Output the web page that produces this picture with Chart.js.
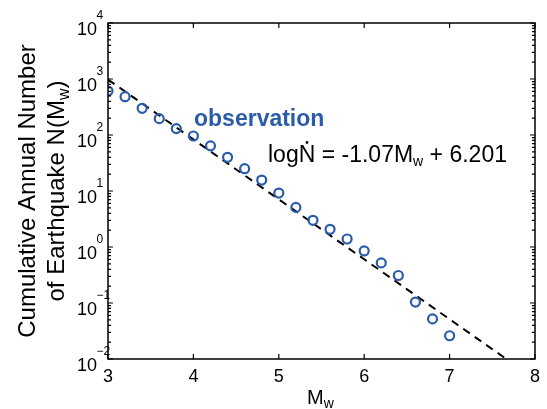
<!DOCTYPE html>
<html>
<head>
<meta charset="utf-8">
<script src="https://cdn.jsdelivr.net/npm/chart.js@4"></script>
<style>
    html, body { margin: 0; padding: 0; background: #fff; }
    #wrap { width: 547px; height: 409px; }
</style>
</head>
<body>
<div id="wrap"><canvas id="graficaGR" width="547" height="409"></canvas></div>
<script>
// magnitudes and cumulative annual number
const magnitudes = [3.0, 3.2, 3.4, 3.6, 3.8, 4.0, 4.2, 4.4, 4.6, 4.8, 5.0, 5.2, 5.4, 5.6, 5.8, 6.0, 6.2, 6.4, 6.6, 6.8, 7.0];
const observed = [610, 483, 300, 196, 130, 96, 64, 40, 25, 15.7, 9.2, 5.1, 3.0, 2.07, 1.39, 0.85, 0.52, 0.31, 0.104, 0.052, 0.026];

// dashed fit line end points
const fitX = [3.0, 7.664];
const fitY = [980, 0.01];

const xTicks = [3, 4, 5, 6, 7, 8];
const yExponents = [-2, -1, 0, 1, 2, 3, 4];

const FONT = '"Liberation Sans", Arial, sans-serif';
const BLUE = '#2a5caa';

function drawParts(ctx, parts, x, y) {
    // parts: [{t, size, dy, bold}] drawn left to right from x on baseline y
    let cx = x;
    parts.forEach((p) => {
        ctx.font = (p.bold ? 'bold ' : '') + p.size + 'px ' + FONT;
        ctx.fillText(p.t, cx, y + (p.dy || 0));
        cx += ctx.measureText(p.t).width;
    });
    return cx;
}

function partsWidth(ctx, parts) {
    let w = 0;
    parts.forEach((p) => {
        ctx.font = (p.bold ? 'bold ' : '') + p.size + 'px ' + FONT;
        w += ctx.measureText(p.t).width;
    });
    return w;
}

const axesPlugin = {
    id: 'axesPlugin',
    afterDraw(chart) {
        const ctx = chart.ctx;
        const a = chart.chartArea;
        const xs = chart.scales.x;
        const ys = chart.scales.y;
        ctx.save();
        ctx.strokeStyle = '#000';
        ctx.fillStyle = '#000';

        // box
        ctx.lineWidth = 1.5;
        ctx.strokeRect(a.left, a.top, a.right - a.left, a.bottom - a.top);

        // x ticks, inward on bottom and top
        ctx.lineWidth = 1.2;
        ctx.beginPath();
        xTicks.forEach((v) => {
            const px = xs.getPixelForValue(v);
            ctx.moveTo(px, a.bottom); ctx.lineTo(px, a.bottom - 5);
            ctx.moveTo(px, a.top); ctx.lineTo(px, a.top + 5);
        });
        // y ticks with minor ones
        yExponents.forEach((e) => {
            const py = ys.getPixelForValue(Math.pow(10, e));
            ctx.moveTo(a.left, py); ctx.lineTo(a.left + 5, py);
            ctx.moveTo(a.right, py); ctx.lineTo(a.right - 5, py);
            if (e < 4) {
                for (let m = 2; m <= 9; m++) {
                    const pm = ys.getPixelForValue(m * Math.pow(10, e));
                    ctx.moveTo(a.left, pm); ctx.lineTo(a.left + 3, pm);
                    ctx.moveTo(a.right, pm); ctx.lineTo(a.right - 3, pm);
                }
            }
        });
        ctx.stroke();

        // x tick labels
        ctx.textAlign = 'center';
        ctx.textBaseline = 'alphabetic';
        ctx.font = '18px ' + FONT;
        xTicks.forEach((v) => {
            ctx.fillText(String(v), xs.getPixelForValue(v), a.bottom + 23);
        });

        // y tick labels 10^e
        yExponents.forEach((e) => {
            const py = ys.getPixelForValue(Math.pow(10, e));
            ctx.textAlign = 'right';
            ctx.font = '18px ' + FONT;
            ctx.fillText('10', 97, py + 12);
            ctx.textAlign = 'left';
            ctx.font = '12px ' + FONT;
            ctx.fillText(e < 0 ? '\u2212' + (-e) : String(e), 96.5, py - 4);
        });

        // x axis title M_w
        ctx.textAlign = 'left';
        drawParts(ctx, [{t: 'M', size: 20}, {t: 'w', size: 14, dy: 4}], 307, a.bottom + 45);

        // y axis title, two rotated lines
        const cy = (a.top + a.bottom) / 2;
        const line1 = [{t: 'Cumulative Annual Number', size: 24}];
        const line2 = [{t: 'of Earthquake N(M', size: 24}, {t: 'w', size: 16, dy: 5}, {t: ')', size: 24}];
        ctx.save();
        ctx.translate(35, cy);
        ctx.rotate(-Math.PI / 2);
        drawParts(ctx, line1, -partsWidth(ctx, line1) / 2, 0);
        ctx.restore();
        ctx.save();
        ctx.translate(64, cy);
        ctx.rotate(-Math.PI / 2);
        drawParts(ctx, line2, -partsWidth(ctx, line2) / 2, 0);
        ctx.restore();

        // annotations
        ctx.fillStyle = BLUE;
        drawParts(ctx, [{t: 'observation', size: 23, bold: true}], 194, 126);

        ctx.fillStyle = '#000';
        const nStart = drawParts(ctx, [{t: 'log', size: 23}], 268, 162);
        const nEnd = drawParts(ctx, [{t: 'N', size: 23}], nStart, 162);
        ctx.beginPath();
        ctx.arc((nStart + nEnd) / 2, 142.5, 1.4, 0, Math.PI * 2);
        ctx.fill();
        drawParts(ctx, [
            {t: ' = -1.07M', size: 23},
            {t: 'w', size: 14, dy: 4},
            {t: ' + 6.201', size: 23},
        ], nEnd, 162);

        ctx.restore();
    }
};

const config = {
    type: 'scatter',
    data: {
        datasets: [
            {
                label: 'observation',
                data: magnitudes.map((m, i) => ({x: m, y: observed[i]})),
                borderColor: BLUE,
                backgroundColor: 'rgba(0,0,0,0)',
                pointRadius: 4.5,
                pointBorderWidth: 2.2,
                order: 1,
            },
            {
                label: 'fit',
                data: fitX.map((m, i) => ({x: m, y: fitY[i]})),
                showLine: true,
                borderColor: '#000',
                borderWidth: 2,
                borderDash: [8, 6],
                pointRadius: 0,
                order: 2,
            },
        ],
    },
    options: {
        responsive: false,
        animation: false,
        layout: {
            padding: {left: 108, top: 23, right: 12, bottom: 50},
        },
        plugins: {
            legend: {display: false},
            tooltip: {enabled: false},
        },
        scales: {
            x: {type: 'linear', min: 3, max: 8, display: false},
            y: {type: 'logarithmic', min: 0.01, max: 10000, display: false},
        },
    },
    plugins: [axesPlugin],
};

new Chart(document.getElementById('graficaGR'), config);
</script>
</body>
</html>
